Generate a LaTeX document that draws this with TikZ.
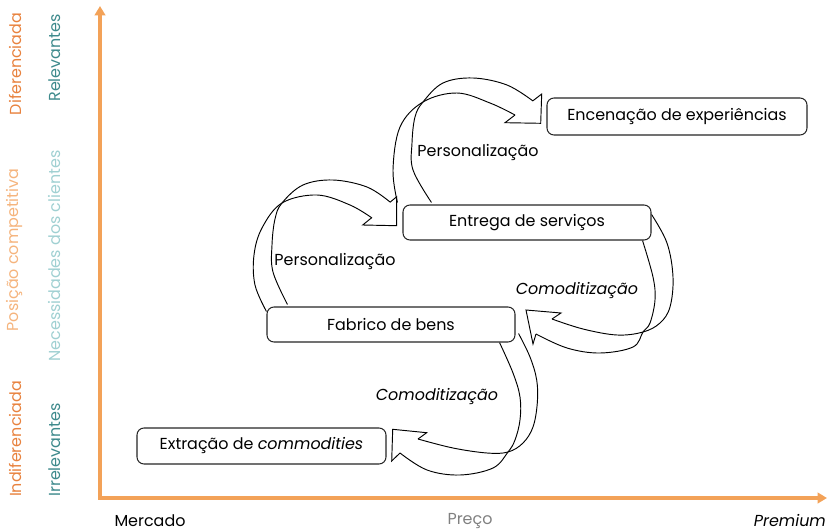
\documentclass[tikz,border=0pt]{standalone}
\usepackage{fontspec}
\setmainfont{Poppins}
\usetikzlibrary{arrows.meta,calc,backgrounds}

\definecolor{axisorange}{RGB}{243,162,88}
\definecolor{difcolor}{RGB}{232,130,62}
\definecolor{poscolor}{RGB}{245,180,125}
\definecolor{relcolor}{RGB}{62,138,140}
\definecolor{neccolor}{RGB}{160,208,210}

\tikzset{
  stage/.style={draw=black!85, line width=0.9pt, rounded corners=6pt, fill=white,
    minimum height=1.05cm, inner sep=0pt},
  band/.style={line width=0.8pt, smooth, tension=0.6},
  bandhead/.style={line width=0.8pt, line join=miter},
  axis/.style={line width=3.4pt, axisorange, {Triangle[length=8pt,width=9pt]}-{Triangle[length=8pt,width=9pt]}},
  sidelabel/.style={rotate=90, inner sep=0pt},
}

\begin{document}
\begin{tikzpicture}[x=0.03cm, y=-0.03cm, font=\fontsize{13.6}{16}\selectfont]
\useasboundingbox (0,0) rectangle (830,532);

% Axes
\draw[axis] (100,6) -- (100,498) -- (827,498);

% Stages
\node[stage, minimum width=7.8cm, minimum height=1.11cm] (enc) at (677,116.5) {Encenação de experiências};
\node[stage, minimum width=7.44cm] (ent) at (527,222.5) {Entrega de serviços};
\node[stage, minimum width=7.44cm] (fab) at (391,324.5) {Fabrico de bens};
\node[stage, minimum width=7.47cm, minimum height=1.08cm] (ext) at (261.5,446) {Extração de \textit{commodities}};

% Curved arrows
\begin{scope}[on background layer]
  % Fabrico -> Entrega
  \draw[band] plot coordinates {($(fab.north west)+(0,5)$) (255,285) (254,255) (262,228) (282,203) (317,195) (350,205) (372,218)};
  \draw[band] plot coordinates {($(fab.north west)+(21,-2)$) (273,272) (272,245) (275,219) (282,203) (303,185) (333,180) (367,187) (390,202)};
  \draw[bandhead] (390,202.3) -- (396.7,196.7) -- (396.7,225.7) -- (362.7,225) -- (371.7,217.7);
  % Entrega -> Encenacao
  \draw[band] plot coordinates {($(ent.north west)+(-5,-2)$) (393,170) (400,127) (423,102) (457,93) (490,103) (515,115)};
  \draw[band] plot coordinates {($(ent.north west)+(29,-2)$) (413,170) (412,143) (415,117) (423,102) (443,83) (473,78) (507,85) (533,101)};
  \draw[bandhead] (533,100.7) -- (541.7,94) -- (540.7,123.3) -- (505,122.7) -- (515,115);
  % Entrega -> Fabrico
  \draw[band] plot coordinates {($(ent.north east)+(0,10)$) (667,243) (673,277) (670,307) (660,323) (643,332) (617,335) (583,329) (552,319)};
  \draw[band] plot coordinates {($(ent.south east)+(-9,0)$) (653,277) (655,300) (650,323) (643,332) (633,347) (600,353) (567,348) (536,334)};
  \draw[bandhead] (536,334) -- (533,344) -- (526,310) -- (561,313) -- (552,319);
  % Fabrico -> Extracao
  \draw[band] plot coordinates {($(fab.south east)+(3,-9)$) (530,357) (536.7,380) (537.3,403) (533,427) (523,443) (508,452) (487,453) (453,448) (418,439)};
  \draw[band] plot coordinates {($(fab.south east)+(-16,0)$) (513,373) (520,397) (520,420) (515,440) (508,452) (493,468) (460,475) (427,470) (400,453)};
  \draw[bandhead] (400,453) -- (391.7,461) -- (392.7,429.3) -- (426.7,432.7) -- (418,439);
\end{scope}

% Arrow labels
\node (pers1) at (478,153) {Personalização};
\node (pers2) at (335,262) {Personalização};
\node[font=\fontsize{13.6}{16}\selectfont\itshape] (com1) at (577,291) {Comoditização};
\node[font=\fontsize{13.6}{16}\selectfont\itshape] (com2) at (437,397) {Comoditização};

% Axis labels
\node (mercado) at (150,521) {Mercado};
\node[text=black!50] (preco) at (470,521) {Preço};
\node[anchor=east, font=\fontsize{13.6}{16}\selectfont\itshape] (premium) at (830,521) {Premium};

\node[sidelabel, text=difcolor] (dif) at (15,64) {Diferenciada};
\node[sidelabel, text=poscolor] (pos) at (15,250) {Posição competitiva};
\node[sidelabel, text=difcolor] (indif) at (15,439) {Indiferenciada};
\node[sidelabel, text=relcolor] (rel) at (55,58) {Relevantes};
\node[sidelabel, text=neccolor] (nec) at (55,256) {Necessidades dos clientes};
\node[sidelabel, text=relcolor] (irrel) at (55,450) {Irrelevantes};
\end{tikzpicture}
\end{document}
